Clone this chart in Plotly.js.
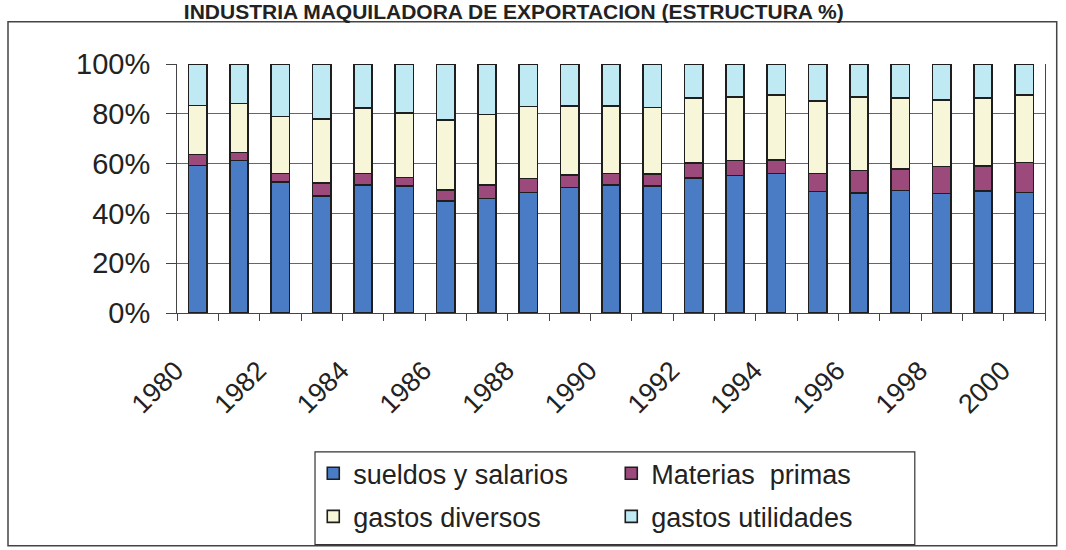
<!DOCTYPE html>
<html>
<head>
<meta charset="utf-8">
<script src="https://cdn.plot.ly/plotly-3.0.1.min.js"></script>
<style>html,body{margin:0;padding:0;background:#fff;}#chart{width:1066px;height:550px;}</style>
</head>
<body>
<div id="chart"></div>
<script>
const years = ["1980","1981","1982","1983","1984","1985","1986","1987","1988","1989","1990","1991","1992","1993","1994","1995","1996","1997","1998","1999","2000"];
const tickLabels = ["1980","","1982","","1984","","1986","","1988","","1990","","1992","","1994","","1996","","1998","","2000"];
const yTickVals = [0, 20, 40, 60, 80, 100];
const yTickLabels = ["0%","20%","40%","60%","80%","100%"];
const sueldos = [59.3,61.3,52.6,47.1,51.4,51.1,44.9,46.0,48.4,50.4,51.5,50.9,54.3,55.3,56.1,48.8,48.1,49.2,48.0,49.1,48.4];
const materias = [4.4,3.1,3.4,5.1,4.6,3.3,4.4,5.4,5.6,5.1,4.6,5.0,6.0,6.0,5.4,7.3,9.1,8.7,10.9,10.0,12.0];
const gastosDiv = [19.6,19.7,22.9,25.6,26.3,26.0,28.3,28.4,29.0,27.6,27.1,26.6,26.0,25.4,26.0,29.1,29.6,28.4,26.7,27.3,27.1];
const utilidades = [16.7,15.9,21.1,22.2,17.7,19.6,22.4,20.2,17.0,16.9,16.8,17.5,13.7,13.3,12.5,14.8,13.2,13.7,14.4,13.6,12.5];
const seriesNames = ["sueldos y salarios","Materias  primas","gastos diversos","gastos utilidades"];
const seriesColors = ["#4a7cc6","#9c4a7c","#f7f6d8","#bfeaf4"];
const legendRows = ["legend","legend","legend2","legend2"];

const allSeries = [sueldos, materias, gastosDiv, utilidades];
const traces = allSeries.map((vals, i) => ({
  type: "bar",
  x: years,
  y: vals,
  name: seriesNames[i],
  legend: legendRows[i],
  marker: {color: seriesColors[i], line: {color: "#1e1e1e", width: 1.6}},
  hoverinfo: "skip"
}));

const F = "Liberation Sans, Arial, sans-serif";
const legendBase = {
  orientation: "h",
  x: 0.157, xanchor: "left",
  yanchor: "top",
  font: {family: F, size: 27, color: "#222"},
  bgcolor: "rgba(0,0,0,0)", borderwidth: 0,
  entrywidth: 253, entrywidthmode: "pixels",
  traceorder: "normal"
};
const layout = {
  width: 1066, height: 550,
  paper_bgcolor: "#ffffff", plot_bgcolor: "#ffffff",
  barmode: "stack",
  bargap: 0.56,
  margin: {l: 177, r: 21, t: 64, b: 237, autoexpand: false},
  title: {
    text: "<b>INDUSTRIA MAQUILADORA DE EXPORTACION (ESTRUCTURA %)</b>",
    font: {family: F, size: 21, color: "#222"},
    x: 0.482, xanchor: "center", y: 0.992, yanchor: "top"
  },
  xaxis: {
    type: "category",
    automargin: false,
    tickvals: years,
    ticktext: tickLabels,
    tickson: "boundaries",
    ticks: "outside", ticklen: 7, tickcolor: "#444", tickwidth: 1,
    tickangle: -45,
    ticklabelstandoff: 30,
    ticklabelshift: -22,
    tickfont: {family: F, size: 27, color: "#222"},
    showline: true, linecolor: "#444", linewidth: 1,
    showgrid: false
  },
  yaxis: {
    range: [0, 100],
    automargin: false,
    tickvals: yTickVals,
    ticktext: yTickLabels,
    ticks: "outside", ticklen: 10, tickcolor: "#444", tickwidth: 1,
    ticklabelstandoff: 10,
    tickfont: {family: F, size: 29, color: "#222"},
    showgrid: true, gridcolor: "#666", gridwidth: 1,
    zeroline: false,
    showline: true, linecolor: "#444", linewidth: 1, mirror: true
  },
  legend: Object.assign({}, legendBase, {y: -0.547}),
  legend2: Object.assign({}, legendBase, {y: -0.72}),
  shapes: [{
    type: "rect", xref: "paper", yref: "paper",
    x0: -0.1947, x1: 1.0135, y0: -0.935, y1: 1.17,
    line: {color: "#444", width: 1.5}, fillcolor: "rgba(0,0,0,0)", layer: "below"
  }, {
    type: "rect", xref: "paper", yref: "paper",
    x0: 0.159, x1: 0.85, y0: -0.558, y1: -0.93,
    line: {color: "#333", width: 1.2}, fillcolor: "rgba(0,0,0,0)", layer: "below"
  }],
  showlegend: true
};

Plotly.newPlot("chart", traces, layout, {displayModeBar: false, staticPlot: true});
</script>
</body>
</html>
